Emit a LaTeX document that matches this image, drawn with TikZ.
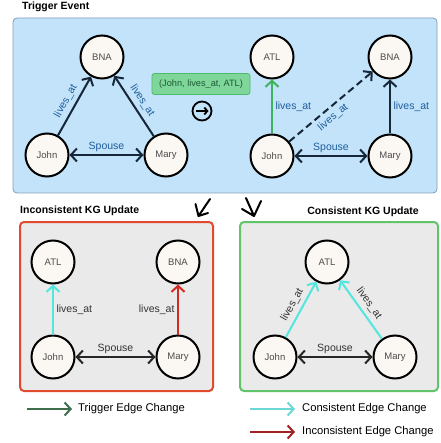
\documentclass[tikz,border=0pt]{standalone}
\usepackage{fontspec}
\setmainfont{Liberation Sans}
\usetikzlibrary{arrows.meta}
\definecolor{topfill}{HTML}{C2E3F9}
\definecolor{topdraw}{HTML}{7F9FB8}
\definecolor{botfill}{HTML}{EAEAEA}
\definecolor{redbox}{HTML}{E04A2E}
\definecolor{greenbox}{HTML}{62C46A}
\definecolor{nodefill}{HTML}{FBF7F2}
\definecolor{edgenavy}{HTML}{172638}
\definecolor{lblblue}{HTML}{1F5E9C}
\definecolor{trigarrow}{HTML}{3DB35E}
\definecolor{tagfill}{HTML}{7ED69B}
\definecolor{tagdraw}{HTML}{4DBB6B}
\definecolor{tagtext}{HTML}{1E5A32}
\definecolor{cyanarrow}{HTML}{52E6DE}
\definecolor{redarrow}{HTML}{D42A22}
\definecolor{legtrig}{HTML}{3F6E4C}
\definecolor{legcyan}{HTML}{6CD8D6}
\definecolor{legred}{HTML}{A22222}
\definecolor{lblgray}{HTML}{333333}
\begin{document}
\begin{tikzpicture}[x=1pt,y=-1pt,
  kgnode/.style={circle, draw=black, line width=2pt, fill=nodefill, minimum size=43pt, inner sep=0pt,
    font=\fontsize{9.5}{11}\selectfont, text=black!70},
  edg/.style={line width=2pt, draw=edgenavy, -{Straight Barb[length=6pt,width=13pt]}},
  dedg/.style={line width=2pt, draw=edgenavy, {Straight Barb[length=6pt,width=13pt]}-{Straight Barb[length=6pt,width=13pt]}},
  elbl/.style={font=\fontsize{10.5}{12}\selectfont, text=lblblue, inner sep=2.5pt},
  glbl/.style={font=\fontsize{10.5}{12}\selectfont, text=lblgray, inner sep=2.5pt},
  slbl/.style={sloped, inner sep=4pt},
  ttl/.style={font=\bfseries\fontsize{10.5}{12}\selectfont, inner sep=0pt},
  legtxt/.style={font=\fontsize{11.2}{13}\selectfont, anchor=west, inner sep=0pt},
  legarr/.style={line width=2pt, -{Straight Barb[length=6pt,width=13pt]}},
  handarr/.style={line width=2pt, line cap=round, line join=round, draw=black}
]
\useasboundingbox (0,0) rectangle (440,443);

% ---------- Top box ----------
\node[ttl, anchor=west] (t1) at (22,7) {Trigger Event};
\draw[fill=topfill, draw=topdraw, line width=0.8pt, rounded corners=4pt] (13,18) rectangle (437,193);

\node[kgnode] (bna1) at (102,57) {BNA};
\node[kgnode] (john1) at (47,155) {John};
\node[kgnode] (mary1) at (166,155) {Mary};
\draw[edg] (john1) -- node[elbl, slbl, above] {lives\_at} (bna1);
\draw[edg] (mary1) -- node[elbl, slbl, above] {lives\_at} (bna1);
\draw[dedg] (john1) -- node[elbl, above] {Spouse} (mary1);

\node[draw=tagdraw, fill=tagfill, line width=0.8pt, rounded corners=2.5pt, minimum width=98pt, minimum height=21pt,
  font=\fontsize{9.2}{10}\selectfont, text=tagtext, inner sep=2pt] (tag) at (201,84) {(John, lives\_at, ATL)};
\node[circle, draw=black, line width=1.8pt, minimum size=19pt, inner sep=0pt] (go) at (202,111) {};
\coordinate (goA) at (196,111);
\coordinate (goB) at (208.5,111);
\draw[line width=1.8pt, -{Straight Barb[length=3pt,width=7pt]}] (goA) -- (goB);

\node[kgnode] (atl2) at (272,57) {ATL};
\node[kgnode] (bna2) at (390,57) {BNA};
\node[kgnode] (john2) at (272,156) {John};
\node[kgnode] (mary2) at (390,156) {Mary};
\draw[edg, draw=trigarrow] (john2) -- node[elbl, right, pos=0.5] {lives\_at} (atl2);
\draw[edg, dashed, dash pattern=on 7pt off 4pt] (john2) -- node[elbl, slbl, below, pos=0.45] {lives\_at} (bna2);
\draw[edg] (mary2) -- node[elbl, right, pos=0.5] {lives\_at} (bna2);
\draw[dedg] (john2) -- node[elbl, above] {Spouse} (mary2);

% ---------- hand arrows ----------
\coordinate (h1a) at (210,199);
\coordinate (h1b) at (198.5,216);
\coordinate (h1c) at (195.5,204);
\coordinate (h1d) at (208,213);
\draw[handarr] (h1a) -- (h1b) (h1c) -- (h1b) -- (h1d);
\coordinate (h2a) at (246,198);
\coordinate (h2b) at (254,216);
\coordinate (h2c) at (242,209);
\coordinate (h2d) at (261,201);
\draw[handarr] (h2a) -- (h2b) (h2c) -- (h2b) -- (h2d);

% ---------- Inconsistent box ----------
\node[ttl, anchor=west] (t2) at (20,211) {Inconsistent KG Update};
\draw[fill=botfill, draw=redbox, line width=2pt, rounded corners=4pt] (20,222) rectangle (213,391);
\node[kgnode] (atl3) at (53,262) {ATL};
\node[kgnode] (bna3) at (178,262) {BNA};
\node[kgnode] (john3) at (53,357) {John};
\node[kgnode] (mary3) at (178,357) {Mary};
\draw[edg, draw=cyanarrow] (john3) -- node[glbl, right] {lives\_at} (atl3);
\draw[edg, draw=redarrow] (mary3) -- node[glbl, left] {lives\_at} (bna3);
\draw[dedg, draw=black!85] (john3) -- node[glbl, above] {Spouse} (mary3);

% ---------- Consistent box ----------
\node[ttl, anchor=east] (t3) at (419,212) {Consistent KG Update};
\draw[fill=botfill, draw=greenbox, line width=2pt, rounded corners=4pt] (240,222) rectangle (438,391);
\node[kgnode] (atl4) at (327,262) {ATL};
\node[kgnode] (john4) at (275,357) {John};
\node[kgnode] (mary4) at (395,357) {Mary};
\draw[edg, draw=cyanarrow] (john4) -- node[glbl, slbl, above] {lives\_at} (atl4);
\draw[edg, draw=cyanarrow] (mary4) -- node[glbl, slbl, above] {lives\_at} (atl4);
\draw[dedg, draw=black!85] (john4) -- node[glbl, above] {Spouse} (mary4);

% ---------- Legend ----------
\coordinate (l1a) at (27,409);
\coordinate (l1b) at (72,409);
\draw[legarr, draw=legtrig] (l1a) -- (l1b);
\node[legtxt] (l1t) at (78,409) {Trigger Edge Change};
\coordinate (l2a) at (250,409);
\coordinate (l2b) at (295,409);
\draw[legarr, draw=legcyan] (l2a) -- (l2b);
\node[legtxt] (l2t) at (302,409) {Consistent Edge Change};
\coordinate (l3a) at (250,432);
\coordinate (l3b) at (295,432);
\draw[legarr, draw=legred] (l3a) -- (l3b);
\node[legtxt] (l3t) at (302,432) {Inconsistent Edge Change};
\end{tikzpicture}
\end{document}
